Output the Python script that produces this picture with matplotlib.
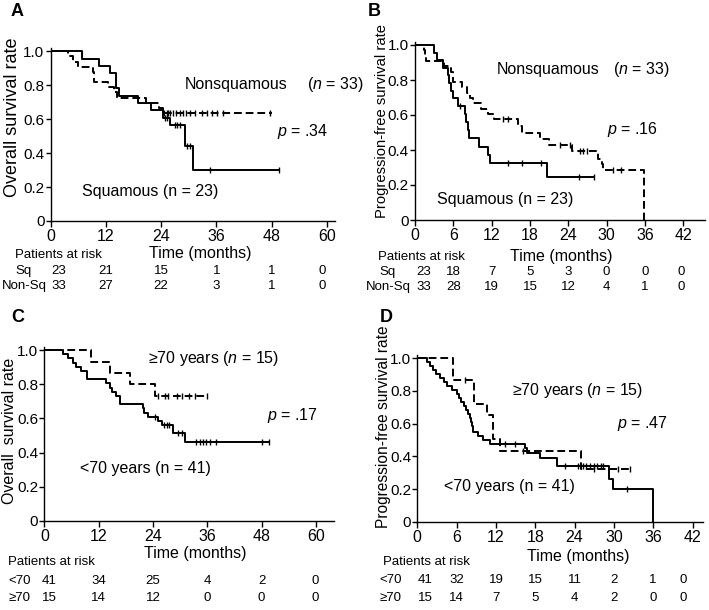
import matplotlib
matplotlib.use('Agg')
import matplotlib.pyplot as plt
import matplotlib.transforms as mtransforms
import numpy as np

plt.rcParams['font.family'] = ['Liberation Sans', 'DejaVu Sans']
plt.rcParams['mathtext.fontset'] = 'custom'
plt.rcParams['mathtext.rm'] = 'Liberation Sans'
plt.rcParams['mathtext.it'] = 'Liberation Sans:italic'

# ---- panel A: overall survival by histology
A_sq_t = [0, 6.7, 10.5, 12.8, 14.3, 14.8, 18.9, 21.9, 24.4, 26.0, 29.1, 30.9, 49.6]
A_sq_s = [1.0, 0.957, 0.913, 0.870, 0.783, 0.739, 0.696, 0.652, 0.609, 0.565, 0.44, 0.298, 0.298]
A_sq_cens = [24.8, 25.3, 27.0, 27.5, 28.0, 29.6, 30.3, 34.7, 49.6]
A_ns_t = [0, 3.8, 4.9, 6.0, 9.1, 9.5, 12.5, 13.8, 14.5, 20.8, 23.6, 24.4, 48.0]
A_ns_s = [1.0, 0.970, 0.939, 0.909, 0.879, 0.818, 0.788, 0.758, 0.727, 0.697, 0.667, 0.636, 0.636]
A_ns_cens = [24.7, 25.2, 25.6, 26.0, 26.5, 27.2, 28.0, 28.7, 29.4, 30.3, 31.4,
             32.8, 33.9, 35.0, 36.1, 37.5, 47.7]
A_risk = {'Sq': [23, 21, 15, 1, 1, 0], 'Non-Sq': [33, 27, 22, 3, 1, 0]}

# ---- panel B: progression-free survival by histology
B_sq_t = [0, 3.0, 3.5, 4.4, 5.1, 5.4, 5.7, 5.9, 6.8, 7.8, 8.0, 8.3, 8.5, 10.0, 11.5, 11.7, 20.6, 28.1]
B_sq_s = [1.0, 0.957, 0.913, 0.870, 0.826, 0.783, 0.739, 0.696, 0.652, 0.605, 0.559, 0.512,
          0.466, 0.419, 0.373, 0.326, 0.245, 0.245]
B_sq_cens = [7.1, 14.6, 16.7, 19.8, 25.6, 28.1]
B_ns_t = [0, 1.4, 1.6, 1.8, 4.5, 5.7, 5.9, 6.0, 7.3, 8.1, 8.6, 9.1, 10.4, 11.5, 12.3,
          16.2, 16.7, 19.6, 20.9, 24.6, 28.7, 29.2, 29.5, 35.8]
B_ns_s = [1.0, 0.970, 0.939, 0.909, 0.879, 0.848, 0.818, 0.788, 0.758, 0.727, 0.697, 0.667,
          0.636, 0.606, 0.576, 0.54, 0.50, 0.465, 0.43, 0.395, 0.35, 0.32, 0.284, 0.0]
B_ns_cens = [13.8, 14.6, 22.7, 24.3, 25.8, 26.3, 26.9, 31.0, 32.3]
B_risk = {'Sq': [23, 18, 7, 5, 3, 0, 0, 0], 'Non-Sq': [33, 28, 19, 15, 12, 4, 1, 0]}

# ---- panel C: overall survival by age
C_young_t = [0, 4.1, 5.2, 6.3, 7.0, 8.1, 9.5, 13.7, 14.4, 14.9, 15.9, 16.6, 21.8, 22.1, 22.8,
             25.1, 25.9, 28.4, 31.0, 49.6]
C_young_s = [1.0, 0.976, 0.951, 0.927, 0.902, 0.878, 0.829, 0.805, 0.780, 0.756, 0.732, 0.683,
             0.659, 0.634, 0.610, 0.585, 0.560, 0.513, 0.464, 0.464]
C_young_cens = [24.4, 26.5, 27.0, 27.6, 29.5, 30.3, 33.6, 34.3, 35.1, 35.8, 36.6, 38.0, 48.0, 49.6]
C_old_t = [0, 10.4, 14.6, 19.0, 24.5, 35.9]
C_old_s = [1.0, 0.933, 0.867, 0.800, 0.733, 0.733]
C_old_cens = [25.1, 26.6, 27.4, 29.2, 30.5, 32.0, 33.2, 35.9]
C_risk = {'<70': [41, 34, 25, 4, 2, 0], '\u226570': [15, 14, 12, 0, 0, 0]}

# ---- panel D: progression-free survival by age
D_young_t = [0, 1.5, 2.0, 2.4, 2.9, 3.5, 4.0, 4.6, 5.3, 6.0, 6.4, 6.6, 7.1, 7.5, 7.8, 8.0, 8.2,
             8.3, 8.5, 9.3, 10.1, 11.1, 16.4, 16.8, 18.7, 21.3, 29.2, 29.8, 35.9]
D_young_s = [1.0, 0.976, 0.951, 0.927, 0.902, 0.878, 0.854, 0.829, 0.805, 0.780, 0.756, 0.732,
             0.707, 0.683, 0.659, 0.634, 0.610, 0.585, 0.549, 0.524, 0.499, 0.475, 0.45, 0.42,
             0.39, 0.34, 0.262, 0.20, 0.0]
D_young_cens = [13.4, 14.9, 22.6, 24.5, 25.3, 25.8, 26.4, 26.9, 27.4, 28.0, 28.4, 32.0]
D_old_t = [0, 5.5, 8.6, 10.6, 11.6, 12.6, 25.0, 32.5]
D_old_s = [1.0, 0.867, 0.722, 0.650, 0.505, 0.433, 0.325, 0.325]
D_old_cens = [7.3, 16.2, 27.0, 30.6, 32.5]
D_risk = {'<70': [41, 32, 19, 15, 11, 2, 1, 0], '\u226570': [15, 14, 7, 5, 4, 2, 0, 0]}

W, H = 709, 610
fig = plt.figure(figsize=(W / 100, H / 100), dpi=100)


def box(l, t, r, b):
    return [l / W, 1 - b / H, (r - l) / W, (b - t) / H]


def km(ax, t, s, cens, ls):
    t = np.array(t)
    s = np.array(s)
    ax.plot(t, s, drawstyle='steps-post', color='black', lw=1.4, ls=ls)
    idx = np.searchsorted(t, cens, side='right') - 1
    ax.plot(cens, s[idx], ls='none', marker='|', ms=4.5, mew=1.0, color='black')


def setup(ax, xmax, ticks, ylab, ylab_size, ylab_xy, xlab_xy):
    ax.set_xlim(0, xmax)
    ax.set_ylim(0, 1.02)
    ax.set_xticks(ticks)
    ax.set_yticks([0, 0.2, 0.4, 0.6, 0.8, 1.0])
    ax.set_yticklabels(['0', '0.2', '0.4', '0.6', '0.8', '1.0'])
    for sp in ['top', 'right']:
        ax.spines[sp].set_visible(False)
    for sp in ['left', 'bottom']:
        ax.spines[sp].set_linewidth(1.0)
    ax.tick_params(direction='out', length=4, width=1, labelsize=11.5)
    ax.tick_params(axis='x', pad=2)
    ax.tick_params(axis='y', length=3.5, pad=1, labelsize=11)
    ax.set_ylabel(ylab, fontsize=ylab_size, va='center')
    ax.yaxis.set_label_coords(*ylab_xy)
    ax.set_xlabel('Time (months)', fontsize=11.5, va='center')
    ax.xaxis.set_label_coords(*xlab_xy)


def risk(ax, ticks, rows, head_xy, lab_x, row_y, shifts):
    fig.text(head_xy[0] / W, 1 - head_xy[1] / H, 'Patients at risk', fontsize=9.5,
             ha='left', va='center')
    tr = mtransforms.blended_transform_factory(ax.transData, fig.transFigure)
    for (name, vals), py in zip(rows.items(), row_y):
        fig.text(lab_x / W, 1 - py / H, name, fontsize=9.5, ha='center', va='center')
        for i, (x, v) in enumerate(zip(ticks, vals)):
            dx = shifts[0] if i == 0 else (shifts[1] if i == len(vals) - 1 else 0)
            t2 = mtransforms.offset_copy(tr, fig=fig, x=dx, y=0, units='dots')
            ax.text(x, 1 - py / H, str(v), transform=t2, fontsize=9.5,
                    ha='center', va='center')


# A
axA = fig.add_axes(box(50.7, 48, 335, 221))
km(axA, A_sq_t, A_sq_s, A_sq_cens, '-')
km(axA, A_ns_t, A_ns_s, A_ns_cens, (0, (4, 2)))
setup(axA, 61.8, [0, 12, 24, 36, 48, 60], 'Overall survival rate', 13,
      (-0.133, 0.6), (0.526, -0.185))
axA.text(29.2, 0.805, 'Nonsquamous', fontsize=11.5, va='center')
axA.text(55.7, 0.805, '($n$ = 33)', fontsize=11.5, va='center')
axA.text(49.1, 0.528, '$p$ = .34', fontsize=11.5, va='center')
axA.text(6.7, 0.173, 'Squamous (n = 23)', fontsize=11.5, va='center')
risk(axA, [0, 12, 24, 36, 48, 60], A_risk, (15, 255), 24, [271, 286], (8, -5))

# B
axB = fig.add_axes(box(415, 41.5, 705, 220))
km(axB, B_sq_t, B_sq_s, B_sq_cens, '-')
km(axB, B_ns_t, B_ns_s, B_ns_cens, (0, (4, 2)))
setup(axB, 45.4, [0, 6, 12, 18, 24, 30, 36, 42], 'Progression-free survival rate', 10.6,
      (-0.113, 0.555), (0.506, -0.205))
axB.text(12.8, 0.862, 'Nonsquamous', fontsize=11.5, va='center')
axB.text(31.0, 0.862, '($n$ = 33)', fontsize=11.5, va='center')
axB.text(30.0, 0.517, '$p$ = .16', fontsize=11.5, va='center')
axB.text(3.4, 0.115, 'Squamous (n = 23)', fontsize=11.5, va='center')
risk(axB, [0, 6, 12, 18, 24, 30, 36, 42], B_risk, (378, 256.7), 388, [271.7, 286.7], (9, -2))

# C
axC = fig.add_axes(box(44.4, 346.7, 334, 521))
km(axC, C_young_t, C_young_s, C_young_cens, '-')
km(axC, C_old_t, C_old_s, C_old_cens, (0, (4, 2)))
setup(axC, 64, [0, 12, 24, 36, 48, 60], 'Overall  survival rate', 11.5,
      (-0.12, 0.517), (0.52, -0.185))
axC.text(22.9, 0.951, '\u226570 years ($n$ = 15)', fontsize=11.5, va='center')
axC.text(49.1, 0.62, '$p$ = .17', fontsize=11.5, va='center')
axC.text(7.9, 0.308, '<70 years (n = 41)', fontsize=11.5, va='center')
risk(axC, [0, 12, 24, 36, 48, 60], C_risk, (8.3, 561.7), 19.5, [581, 598.3], (5, -1))

# D
axD = fig.add_axes(box(417.3, 355, 703, 521.7))
km(axD, D_young_t, D_young_s, D_young_cens, '-')
km(axD, D_old_t, D_old_s, D_old_cens, (0, (4, 2)))
setup(axD, 43.6, [0, 6, 12, 18, 24, 30, 36, 42], 'Progression-free survival rate', 11.2,
      (-0.117, 0.57), (0.564, -0.21))
axD.text(14.4, 0.803, '\u226570 years ($n$ = 15)', fontsize=11.5, va='center')
axD.text(30.4, 0.6, '$p$ = .47', fontsize=11.5, va='center')
axD.text(4.0, 0.213, '<70 years (n = 41)', fontsize=11.5, va='center')
risk(axD, [0, 6, 12, 18, 24, 30, 36, 42], D_risk, (383, 561.7), 391, [580, 598.3], (8, -9))

for letter, px, py in [('A', 17.5, 12), ('B', 374, 12), ('C', 17.5, 317), ('D', 386, 317)]:
    fig.text(px / W, 1 - py / H, letter, fontsize=13, fontweight='bold', ha='center', va='center')

fig.savefig('out.png', dpi=100)
